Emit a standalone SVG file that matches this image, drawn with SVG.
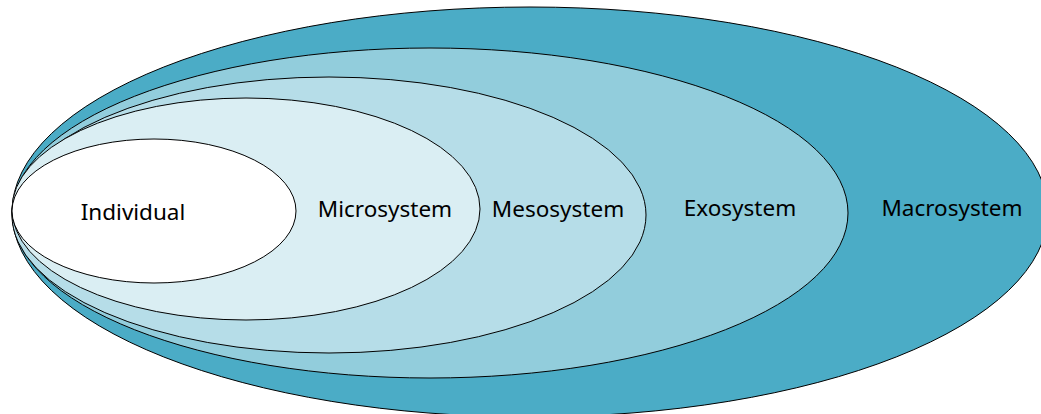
<svg xmlns="http://www.w3.org/2000/svg" width="1041" height="414" viewBox="0 0 1041 414">
  <style>
    .ring { stroke: #000; stroke-width: 1; }
    .label { font-family: "Noto Sans", "Open Sans", "Liberation Sans", sans-serif; font-size: 22.5px; fill: #000; text-anchor: middle; }
  </style>
  <rect width="1041" height="414" fill="#fff"/>
  <!-- nested system ellipses, drawn outermost first -->
  <g id="macrosystem">
    <ellipse class="ring" cx="530" cy="212" rx="518" ry="205" fill="#4BACC6"/>
    <text class="label" x="952" y="216">Macrosystem</text>
  </g>
  <g id="exosystem">
    <ellipse class="ring" cx="430" cy="213" rx="418" ry="165" fill="#92CDDC"/>
    <text class="label" x="740" y="216">Exosystem</text>
  </g>
  <g id="mesosystem">
    <ellipse class="ring" cx="329" cy="215" rx="317" ry="138" fill="#B6DDE8"/>
    <text class="label" x="558" y="217">Mesosystem</text>
  </g>
  <g id="microsystem">
    <ellipse class="ring" cx="246" cy="209" rx="234" ry="111" fill="#DAEEF3"/>
    <text class="label" x="385" y="217">Microsystem</text>
  </g>
  <g id="individual">
    <ellipse class="ring" cx="154" cy="211" rx="142" ry="72" fill="#FFFFFF"/>
    <text class="label" x="133" y="220">Individual</text>
  </g>
  <g id="connectors"/>
</svg>
